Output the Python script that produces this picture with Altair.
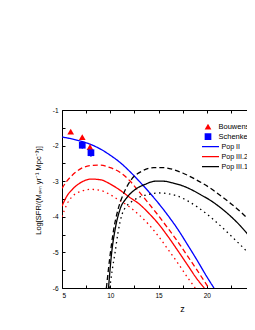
import altair as alt
import pandas as pd

FONT = "Liberation Sans"

# ---- model curves ----
pop2_z = [5, 6, 7, 8, 9, 10, 11, 12, 13, 14, 15, 16, 17, 18, 19, 20, 20.75]
pop2_v = [-1.76, -1.81, -1.88, -1.97, -2.10, -2.27, -2.47, -2.72, -3.0, -3.3, -3.62, -3.97, -4.35, -4.78, -5.22, -5.68, -6.0]

pop32_dash_z = [5, 5.5, 6, 7, 8, 9, 10, 11, 12, 13, 14, 15, 16, 17, 18, 19, 20.2]
pop32_dash_v = [-3.2, -3.0, -2.85, -2.64, -2.56, -2.55, -2.62, -2.75, -2.98, -3.3, -3.63, -3.97, -4.33, -4.7, -5.1, -5.5, -6.0]

pop32_solid_z = [5, 5.5, 6, 7, 8, 9, 10, 11, 12, 13, 14, 15, 16, 17, 18, 19, 19.75]
pop32_solid_v = [-3.7, -3.42, -3.25, -3.03, -2.94, -2.96, -3.08, -3.25, -3.45, -3.64, -3.9, -4.2, -4.56, -4.95, -5.35, -5.75, -6.0]

pop32_dot_z = [5, 5.5, 6, 7, 8, 9, 10, 11, 12, 13, 14, 15, 16, 17, 18, 18.8]
pop32_dot_v = [-4.0, -3.65, -3.45, -3.28, -3.23, -3.26, -3.38, -3.55, -3.72, -3.95, -4.22, -4.55, -4.92, -5.3, -5.7, -6.0]

pop31_solid_z = [9.82, 10.15, 10.5, 11, 11.7, 12.6, 13.6, 14.65, 15.5, 16.5, 17.5, 18.5, 19.5, 20.5, 21.5, 22.5, 23.5, 24.5, 25]
pop31_solid_v = [-6.0, -5.0, -4.36, -3.8, -3.47, -3.23, -3.09, -3.0, -3.0, -3.05, -3.13, -3.25, -3.4, -3.56, -3.76, -3.99, -4.26, -4.58, -4.78]

pop31_dash_z = [9.6, 9.97, 10.3, 10.8, 11.35, 12.2, 13.27, 14.5, 15.5, 16.5, 17.5, 18.5, 19.5, 20.5, 21.5, 22.5, 23.5, 24.5, 25]
pop31_dash_v = [-6.0, -5.11, -4.45, -3.8, -3.37, -2.95, -2.72, -2.62, -2.62, -2.67, -2.77, -2.9, -3.05, -3.22, -3.42, -3.63, -3.86, -4.13, -4.3]

pop31_dot_z = [9.95, 10.2, 10.5, 10.8, 11.2, 11.7, 12.2, 13, 14, 15, 16, 17, 18, 19, 20, 21, 22, 23, 24, 25]
pop31_dot_v = [-6.0, -5.5, -5.0, -4.45, -3.95, -3.7, -3.58, -3.45, -3.37, -3.33, -3.35, -3.42, -3.55, -3.72, -3.92, -4.15, -4.4, -4.66, -4.93, -5.22]

# ---- observations ----
bouwens_z = [5.9, 7.1, 7.9]
bouwens_v = [-1.61, -1.76, -2.04]
schenker_z = [7.1, 8.0]
schenker_v = [-1.99, -2.2]
schenker_err = [0.1, 0.12]

pops = ["Pop II", "Pop III.2", "Pop III.1"]
pop_colors = ["#0000ff", "#ff0000", "#000000"]
variants = ["solid", "dashed", "dotted"]
datasets = ["Bouwens et al. (2011)", "Schenker et al. (2013)"]

x_ticks = [5, 7.5, 10, 12.5, 15, 17.5, 20, 22.5, 25]
y_ticks = [-6, -5.5, -5, -4.5, -4, -3.5, -3, -2.5, -2, -1.5, -1]

series = [
    ("Pop II", "solid", pop2_z, pop2_v),
    ("Pop III.2", "dashed", pop32_dash_z, pop32_dash_v),
    ("Pop III.2", "solid", pop32_solid_z, pop32_solid_v),
    ("Pop III.2", "dotted", pop32_dot_z, pop32_dot_v),
    ("Pop III.1", "solid", pop31_solid_z, pop31_solid_v),
    ("Pop III.1", "dashed", pop31_dash_z, pop31_dash_v),
    ("Pop III.1", "dotted", pop31_dot_z, pop31_dot_v),
]
rows = []
for pop, var, zs, vs in series:
    for z, v in zip(zs, vs):
        rows.append({"z": z, "v": v, "pop": pop, "variant": var, "series": pop + " " + var})
curves = pd.DataFrame(rows)

obs = pd.DataFrame(
    [{"z": z, "v": v, "dataset": datasets[0]} for z, v in zip(bouwens_z, bouwens_v)]
    + [{"z": z, "v": v, "dataset": datasets[1]} for z, v in zip(schenker_z, schenker_v)]
)
errs = pd.DataFrame({
    "z": schenker_z,
    "lo": [v - e for v, e in zip(schenker_v, schenker_err)],
    "hi": [v + e for v, e in zip(schenker_v, schenker_err)],
})

xscale = alt.Scale(domain=[5, 25], nice=False, zero=False)
yscale = alt.Scale(domain=[-6, -1], nice=False, zero=False)

common_axis = dict(
    domain=False, grid=False, tickSize=3, offset=-3, tickColor="black", tickWidth=1,
    labelColor="black", labelFont=FONT, labelFontSize=6.5,
    titleColor="black", titleFont=FONT, titleFontWeight="normal",
)

x_axis = alt.Axis(
    values=x_ticks, labelExpr="datum.value % 5 === 0 ? datum.label : ''",
    title="z", titleFontSize=9, labelPadding=4, titlePadding=6, titleX=120, **common_axis,
)
y_axis = alt.Axis(
    values=y_ticks,
    labelExpr="datum.value % 1 === 0 ? '-' + format(abs(datum.value), 'd') : ''",
    title="Log[SFR/(Mₛᵤₙ yr⁻¹ Mpc⁻³)]", titleFontSize=7.5, labelPadding=4,
    titlePadding=10, titleY=80, **common_axis,
)
top_axis = alt.Axis(
    orient="top", values=x_ticks, labels=False, title=None, **common_axis,
)

lines = alt.Chart(curves).mark_line(clip=True, strokeWidth=1.3, interpolate="monotone").encode(
    x=alt.X("z:Q", scale=xscale, axis=x_axis),
    y=alt.Y("v:Q", scale=yscale, axis=y_axis),
    color=alt.Color(
        "pop:N", scale=alt.Scale(domain=pops, range=pop_colors),
        legend=alt.Legend(
            title=None, orient="none", legendX=139, legendY=31.7, symbolType="stroke",
            symbolSize=289, symbolStrokeWidth=1.3, labelFontSize=7.1, labelFont=FONT,
            labelColor="black", clipHeight=10, rowPadding=0, padding=0, labelOffset=1.5,
        ),
    ),
    strokeDash=alt.StrokeDash(
        "variant:N", scale=alt.Scale(domain=variants, range=[[1, 0], [5, 3], [1.5, 3.5]]),
        legend=None,
    ),
    detail="series:N",
)

errbars = alt.Chart(errs).mark_rule(color="#0000ff", strokeWidth=1, clip=True).encode(
    x=alt.X("z:Q", scale=xscale, axis=None),
    y=alt.Y("lo:Q", scale=yscale, axis=None),
    y2="hi:Q",
)

obs_legend = dict(
    title=None, orient="none", legendX=141.5, legendY=11.7, symbolSize=45,
    labelFontSize=7.5, labelFont=FONT, labelColor="black", clipHeight=10,
    rowPadding=0, padding=0, labelOffset=6,
)
points = alt.Chart(obs).mark_point(filled=True, size=45, opacity=1, clip=True).encode(
    x=alt.X("z:Q", scale=xscale, axis=top_axis),
    y=alt.Y("v:Q", scale=yscale, axis=None),
    color=alt.Color("dataset:N", scale=alt.Scale(domain=datasets, range=["#ff0000", "#0000ff"]),
                    legend=alt.Legend(**obs_legend)),
    shape=alt.Shape("dataset:N", scale=alt.Scale(domain=datasets, range=["triangle-up", "square"]),
                    legend=alt.Legend(**obs_legend)),
)

chart = (
    alt.layer(lines, errbars, points)
    .resolve_scale(color="independent", shape="independent")
    .resolve_axis(x="independent", y="independent")
    .properties(
        width=193, height=178,
        autosize=alt.AutoSizeParams(type="none"),
        padding={"left": 54, "top": 102, "right": -8, "bottom": 30},
        background="white",
    )
    .configure_view(stroke="black", strokeWidth=1)
)

chart.save("out.html", embed_options={"renderer": "svg", "actions": False})
